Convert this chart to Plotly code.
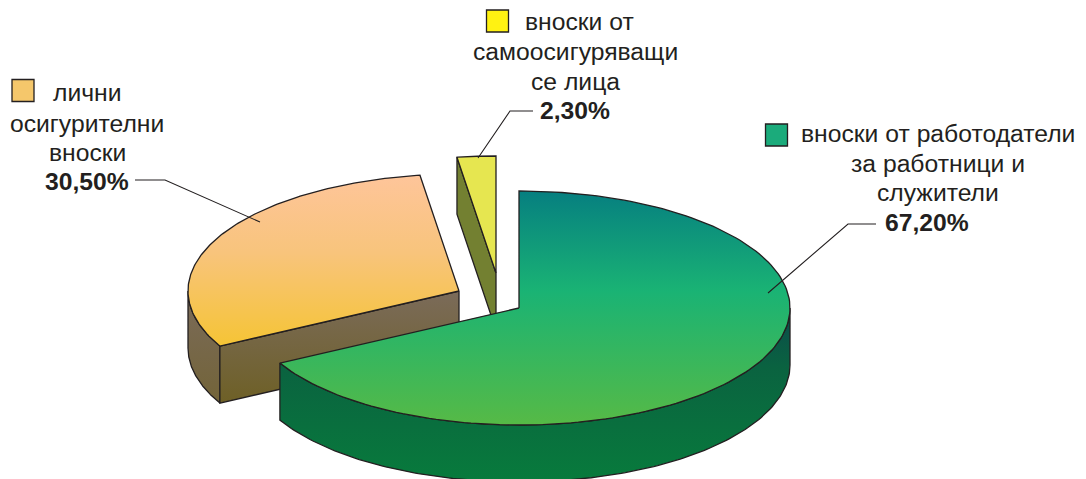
import numpy as np
import plotly.graph_objects as go

# --- data ---
categories = [
    ["вноски от работодатели", "за работници и", "служители"],
    ["лични", "осигурителни", "вноски"],
    ["вноски от", "самоосигуряващи", "се лица"],
]
values = [67.2, 30.5, 2.3]
value_labels = ["67,20%", "30,50%", "2,30%"]

# --- pie geometry / style ---
RX, RY, DEPTH = 271, 117, 57
APEX = [(519, 308), (459, 291), (496, 273)]
INK = "#231F20"
TOP_GRAD = [
    [[0, "#067F80"], [0.43, "#1AB374"], [1, "#56BA46"]],
    [[0, "#FEC59A"], [0.45, "#F8C47C"], [1, "#F5C435"]],
    [[0, "#E6E650"], [1, "#E6E650"]],
]
WALL_GRAD = [
    [[0, "#0B4B4C"], [0.35, "#0A6340"], [1, "#087B3C"]],
    [[0, "#7B6B5A"], [1, "#6E6026"]],
    [[0, "#738031"], [1, "#738031"]],
]
SWATCH = ["#1BAB7B", "#F5C76B", "#FFF212"]
SWATCH_XY = [(776.5, 135), (23, 90.5), (497.5, 21)]
TEXT_XY = [
    [(938, 133), (938, 163), (938, 192), (927, 222)],
    [(87, 92.5), (87, 123), (87, 152), (87, 181)],
    [(579, 21), (575, 51), (575, 81), (575, 110)],
]
LEADERS = [
    ([768, 848, 876], [293, 224, 224]),
    ([135, 165, 260], [180, 180, 222]),
    ([478, 510, 533], [158, 111, 111]),
]

# angles clockwise from the top, derived from values
cum = np.concatenate([[0], np.cumsum(values)]) / sum(values) * 2 * np.pi


def arc(i, a0, a1, dy=0):
    t = np.linspace(a0, a1, 160)
    return APEX[i][0] + RX * np.sin(t), APEX[i][1] - RY * np.cos(t) + dy


def poly(x, y, grad, y0, y1):
    return go.Scatter(
        x=list(x), y=list(y), mode="lines", fill="toself",
        line=dict(color=INK, width=1.3), hoverinfo="skip",
        fillgradient=dict(type="vertical", colorscale=grad, start=y0, stop=y1),
    )


def wall(i, a0, a1):
    xt, yt = arc(i, a0, a1)
    xb, yb = arc(i, a1, a0, DEPTH)
    return poly(np.r_[xt, xb, xt[0]], np.r_[yt, yb, yt[0]], WALL_GRAD[i],
                APEX[i][1], APEX[i][1] + RY + DEPTH)


def cut(i, a):
    ax, ay = APEX[i]
    px, py = ax + RX * np.sin(a), ay - RY * np.cos(a)
    return poly([ax, px, px, ax, ax], [ay, py, py + DEPTH, ay + DEPTH, ay],
                WALL_GRAD[i], min(ay, py), max(ay, py) + DEPTH)


def top(i, a0, a1):
    ax, ay = APEX[i]
    x, y = arc(i, a0, a1)
    xs, ys = np.r_[ax, x, ax], np.r_[ay, y, ay]
    return poly(xs, ys, TOP_GRAD[i], ys.min(), ys.max())


fig = go.Figure()
# orange slice
fig.add_trace(wall(1, cum[1], 1.5 * np.pi))
fig.add_trace(cut(1, cum[1]))
fig.add_trace(top(1, cum[1], cum[2]))
# yellow slice
fig.add_trace(cut(2, cum[2]))
fig.add_trace(top(2, cum[2], cum[3]))
# green slice
fig.add_trace(wall(0, 0.5 * np.pi, cum[1]))
fig.add_trace(top(0, cum[0], cum[1]))

for lx, ly in LEADERS:
    fig.add_trace(go.Scatter(x=lx, y=ly, mode="lines", hoverinfo="skip",
                             line=dict(color=INK, width=1.1)))

for i, (sx, sy) in enumerate(SWATCH_XY):
    fig.add_trace(go.Scatter(
        x=[sx], y=[sy], mode="markers", hoverinfo="skip",
        marker=dict(symbol="square", size=22, color=SWATCH[i],
                    line=dict(color=INK, width=1.3))))

for i, lines in enumerate(categories):
    rows = lines + ["<b>" + value_labels[i] + "</b>"]
    for (tx, ty), txt in zip(TEXT_XY[i], rows):
        fig.add_annotation(x=tx, y=ty, text=txt, showarrow=False,
                           xanchor="center", yanchor="middle",
                           font=dict(family="Liberation Sans, Arial, sans-serif",
                                     size=24.7, color=INK))

fig.update_layout(
    width=1086, height=479, showlegend=False,
    margin=dict(l=0, r=0, t=0, b=0),
    paper_bgcolor="white", plot_bgcolor="white",
    xaxis=dict(range=[0, 1086], visible=False, fixedrange=True),
    yaxis=dict(range=[479, 0], visible=False, fixedrange=True),
)
fig.write_html("out.html", config={"displayModeBar": False},
               post_script="document.body.style.margin='0';document.body.style.overflow='hidden';")
